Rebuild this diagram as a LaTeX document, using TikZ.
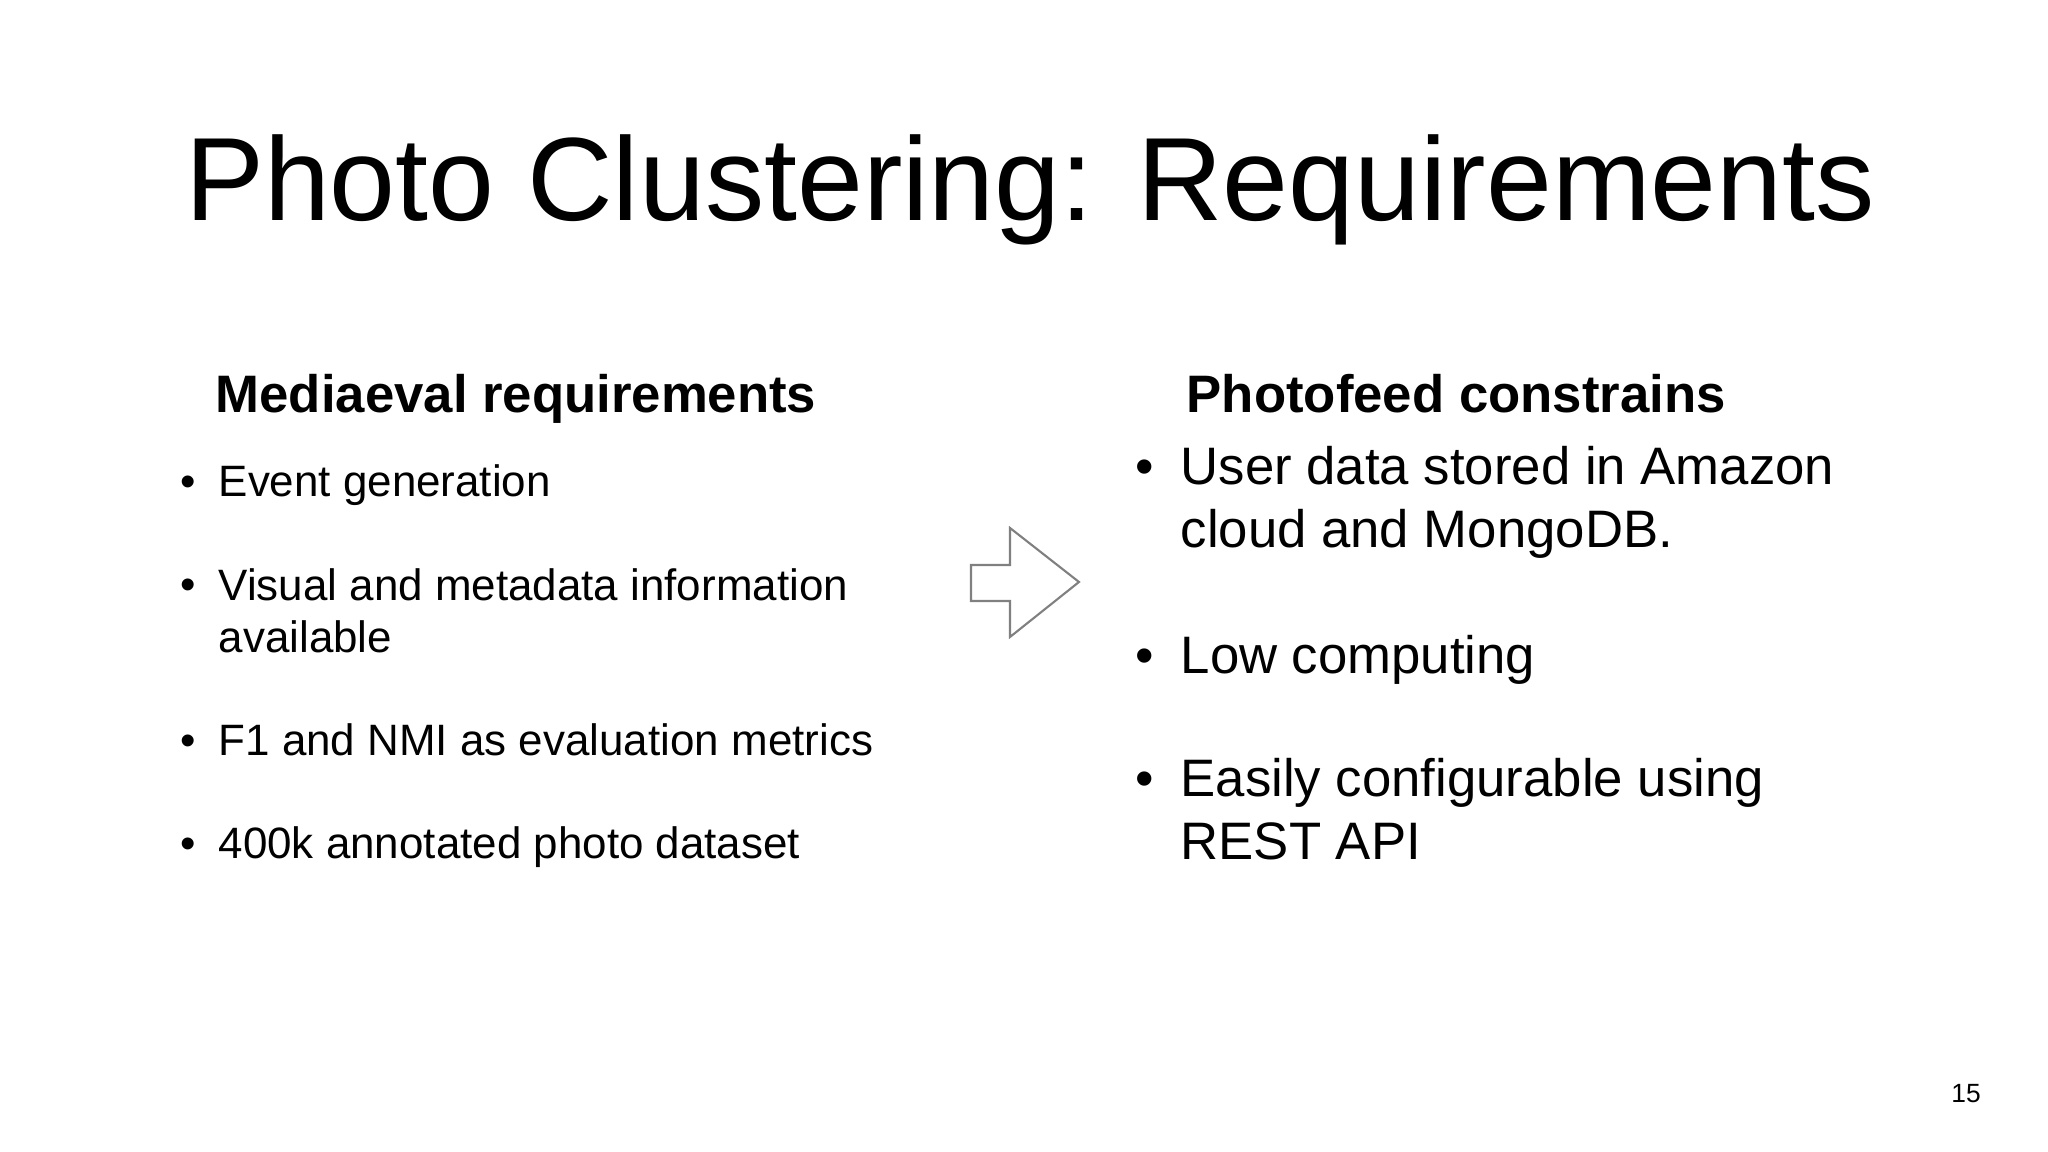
\documentclass[tikz,border=0pt]{standalone}
\usepackage{fontspec}
\setmainfont{Liberation Sans}
\tikzset{
  heading/.style={anchor=base west, inner sep=0pt, font=\fontsize{15}{18}\selectfont\bfseries},
  leftitem/.style={anchor=base west, inner sep=0pt, align=left, font=\fontsize{12.5}{15}\selectfont},
  rightitem/.style={anchor=base west, inner sep=0pt, align=left, font=\fontsize{15}{18}\selectfont},
}
\begin{document}
\begin{tikzpicture}
  \useasboundingbox (0,0) rectangle (20.48,11.52);
  % title
  \node (title) at (10.30,9.62) {\fontsize{33.7}{38}\selectfont Photo Clustering: Requirements};
  % left column
  \node[heading] (lefthead) at (2.15,7.39) {Mediaeval requirements};
  \node[leftitem] (lb1) at (1.80,6.55) {\textbullet};
  \node[leftitem] (l1) at (2.18,6.55) {Event generation};
  \node[leftitem] (lb2) at (1.80,5.52) {\textbullet};
  \node[leftitem] (l2) at (2.18,4.99) {Visual and metadata information\\available};
  \node[leftitem] (lb3) at (1.80,3.96) {\textbullet};
  \node[leftitem] (l3) at (2.18,3.96) {F1 and NMI as evaluation metrics};
  \node[leftitem] (lb4) at (1.80,2.93) {\textbullet};
  \node[leftitem] (l4) at (2.18,2.93) {400k annotated photo dataset};
  % arrow
  \draw[gray, line width=0.6pt, line join=miter]
    (9.71,5.87) -- (10.10,5.87) -- (10.10,6.24) -- (10.79,5.70)
    -- (10.10,5.15) -- (10.10,5.51) -- (9.71,5.51) -- cycle;
  % right column
  \node[heading] (righthead) at (11.86,7.39) {Photofeed constrains};
  \node[rightitem] (rb1) at (11.35,6.67) {\textbullet};
  \node[rightitem] (r1) at (11.80,6.04) {User data stored in Amazon\\cloud and MongoDB.};
  \node[rightitem] (rb2) at (11.35,4.78) {\textbullet};
  \node[rightitem] (r2) at (11.80,4.78) {Low computing};
  \node[rightitem] (rb3) at (11.35,3.55) {\textbullet};
  \node[rightitem] (r3) at (11.80,2.92) {Easily configurable using\\REST API};
  % page number
  \node (page) at (19.66,0.58) {\fontsize{7.5}{9}\selectfont 15};
\end{tikzpicture}
\end{document}
